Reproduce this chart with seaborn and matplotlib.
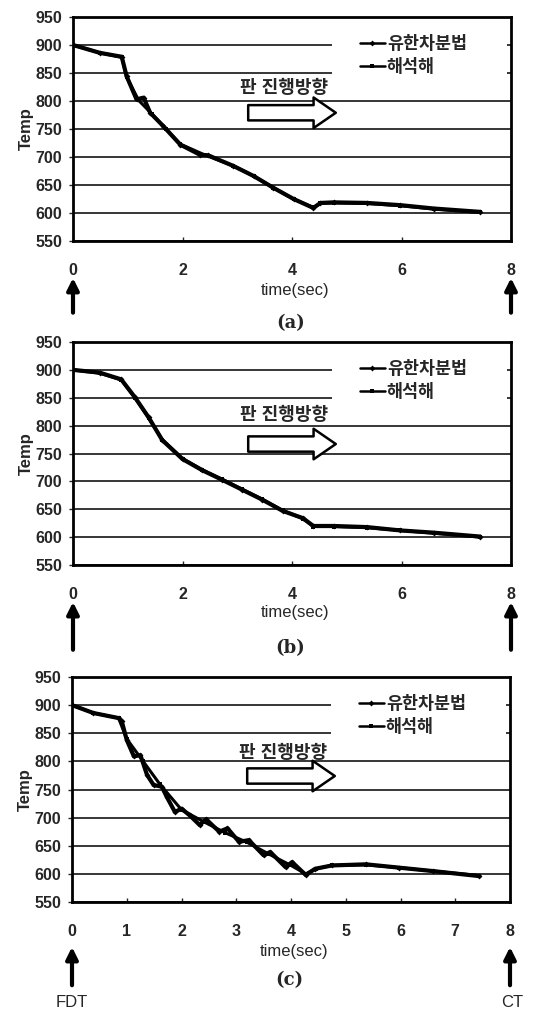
import matplotlib
matplotlib.use('Agg')
import matplotlib.pyplot as plt
import seaborn as sns
from matplotlib.patches import Rectangle

# --- data ------------------------------------------------------------------
series_names = ['유한차분법', '해석해']
panel_tags = ['(a)', '(b)', '(c)']
direction_text = '판 진행방향'
y_ticks = [550, 600, 650, 700, 750, 800, 850, 900, 950]
x_ticks_ab = [0, 2, 4, 6, 8]
x_ticks_c = [0, 1, 2, 3, 4, 5, 6, 7, 8]

time_a = [0, 0.49, 0.89, 0.98, 1.16, 1.29, 1.41, 1.65, 1.96, 2.32, 2.47, 2.93,
          3.30, 3.66, 4.03, 4.39, 4.52, 4.76, 5.37, 5.98, 6.59, 7.44]
fdm_a = [900, 886, 879, 844, 803, 806, 779, 755, 722, 704, 703, 684,
         666, 645, 625, 609, 618, 619, 618, 614, 608, 602]
time_a_exact = [0, 0.49, 0.89, 0.98, 1.2, 1.45, 1.7, 1.96, 2.4, 2.93, 3.3,
                3.66, 4.03, 4.39, 4.52, 4.76, 5.37, 5.98, 6.59, 7.44]
exact_a = [900, 886, 878, 843, 801, 776, 750, 723, 704, 684, 666,
           645, 625, 610, 617, 618, 617, 613, 607, 601]

time_b = [0, 0.49, 0.88, 1.13, 1.38, 1.63, 2.0, 2.36, 2.72, 3.09, 3.46,
          3.83, 4.2, 4.39, 4.76, 5.37, 5.98, 6.59, 7.44]
fdm_b = [900, 895, 883, 851, 815, 774, 740, 720, 703, 685, 667,
         647, 634, 620, 620, 618, 612, 608, 601]
exact_b = [900, 894, 882, 850, 814, 775, 741, 721, 704, 686, 668,
           648, 633, 619, 619, 617, 612, 607, 600]

time_c = [0, 0.39, 0.85, 0.91, 1.0, 1.13, 1.25, 1.37, 1.49, 1.64, 1.73, 1.88,
          2.0, 2.15, 2.33, 2.45, 2.69, 2.84, 3.05, 3.23, 3.5, 3.62, 3.9,
          4.02, 4.27, 4.44, 4.75, 5.37, 5.98, 6.59, 7.44]
fdm_c = [900, 886, 877, 871, 838, 809, 811, 776, 758, 755, 737, 710,
         716, 704, 687, 697, 675, 681, 657, 660, 633, 639, 612,
         621, 598, 609, 615, 617, 611, 605, 596]
time_c_exact = [0, 0.39, 0.85, 1.0, 1.3, 1.6, 2.0, 2.4, 2.8, 3.2, 3.6, 4.0,
                4.27, 4.45, 4.75, 5.37, 5.98, 6.59, 7.44]
exact_c = [900, 886, 877, 840, 800, 760, 714, 693, 673, 656, 635, 615,
           600, 609, 615, 616, 611, 605, 597]

panels = [
    (time_a, fdm_a, time_a_exact, exact_a, x_ticks_ab),
    (time_b, fdm_b, time_b, exact_b, x_ticks_ab),
    (time_c, fdm_c, time_c_exact, exact_c, x_ticks_c),
]

# --- layout (pixels in a 542 x 1009 canvas) ---------------------------------
W, H = 542, 1009
boxes = [(73, 17, 511, 241), (73, 342, 511, 565), (72, 677, 510, 902)]
text_y = [823, 818, 814]
arrow_y = [779, 767, 774]
tlabel_y = [-0.22, -0.215, -0.222]
tag_y = [-0.366, -0.372, -0.347]
up_arrow = [(-0.165, -0.32), (-0.166, -0.38), (-0.2, -0.37)]

sns.set_style('white')
plt.rcParams['font.family'] = ['Liberation Sans', 'Noto Sans CJK KR']
plt.rcParams['font.weight'] = 'bold'

fig = plt.figure(figsize=(W / 100, H / 100), dpi=100)

for i, (t1, v1, t2, v2, xt) in enumerate(panels):
    l, t, r, b = boxes[i]
    ax = fig.add_axes([l / W, 1 - b / H, (r - l) / W, (b - t) / H])

    sns.lineplot(x=t1, y=v1, ax=ax, color='black', lw=3.0, marker='D',
                 markersize=3, markeredgewidth=0, label=series_names[0],
                 estimator=None, sort=False)
    sns.lineplot(x=t2, y=v2, ax=ax, color='black', lw=2.2, marker='s',
                 markersize=2.5, markeredgewidth=0, label=series_names[1],
                 estimator=None, sort=False)

    ax.set_xlim(0, 8)
    ax.set_ylim(550, 950)
    ax.set_yticks(y_ticks)
    ax.set_xticks(xt)
    ax.set_axisbelow(True)
    ax.yaxis.grid(True, color='black', lw=1.1)
    ax.xaxis.grid(False)
    for s in ax.spines.values():
        s.set_color('black')
        s.set_linewidth(2.0)
    ax.tick_params(axis='y', length=3, width=1, pad=5, labelsize=11.5,
                   left=True, direction='out')
    ax.tick_params(axis='x', length=3, width=1, pad=16, labelsize=11.5,
                   bottom=True, direction='in')
    for lab in ax.get_xticklabels() + ax.get_yticklabels():
        lab.set_fontweight('bold')
    ax.set_ylabel('Temp', fontsize=12, fontweight='bold', labelpad=1)
    ax.set_xlabel('')

    # white block behind the legend
    ax.add_patch(Rectangle((0.591, 0.70), 0.40, 0.22, transform=ax.transAxes,
                           facecolor='white', edgecolor='none', zorder=1))
    leg = ax.legend(loc='upper left', bbox_to_anchor=(0.655, 0.92),
                    frameon=False, borderpad=0, borderaxespad=0,
                    handlelength=1.45, handletextpad=0.1, labelspacing=0.35,
                    prop={'size': 12.5, 'weight': 'bold'})
    for h in leg.legend_handles:
        h.set_linewidth(1.8)

    ax.text(3.86, text_y[i], direction_text, ha='center', va='center',
            fontsize=13, fontweight='bold')
    ax.annotate('', xy=(4.8, arrow_y[i]), xytext=(3.2, arrow_y[i]),
                arrowprops=dict(arrowstyle='simple,head_length=1.6,head_width=2.2,tail_width=1.1',
                                fc='white', ec='black', lw=1.8,
                                shrinkA=0, shrinkB=0, mutation_scale=10))

    tr = ax.get_xaxis_transform()
    ax.text(4.05, tlabel_y[i], 'time(sec)', transform=tr, ha='center',
            va='center', fontsize=12, fontweight='normal')
    ax.text(3.97, tag_y[i], panel_tags[i], transform=tr, ha='center',
            va='center', fontsize=13, fontweight='bold',
            family='DejaVu Serif')
    ya, yb = up_arrow[i]
    for xx in (0, 8):
        ax.annotate('', xy=(xx, ya), xytext=(xx, yb), xycoords=tr,
                    textcoords=tr, annotation_clip=False,
                    arrowprops=dict(arrowstyle='-|>,head_length=0.7,head_width=0.35',
                                    color='black', lw=3, shrinkA=0,
                                    shrinkB=0))
    if i == 2:
        ax.text(0, -0.445, 'FDT', transform=tr, ha='center', va='center',
                fontsize=12, fontweight='normal')
        ax.text(7.83, -0.445, 'CT', transform=tr, ha='left', va='center',
                fontsize=12, fontweight='normal')

fig.savefig('out.png', dpi=100)
